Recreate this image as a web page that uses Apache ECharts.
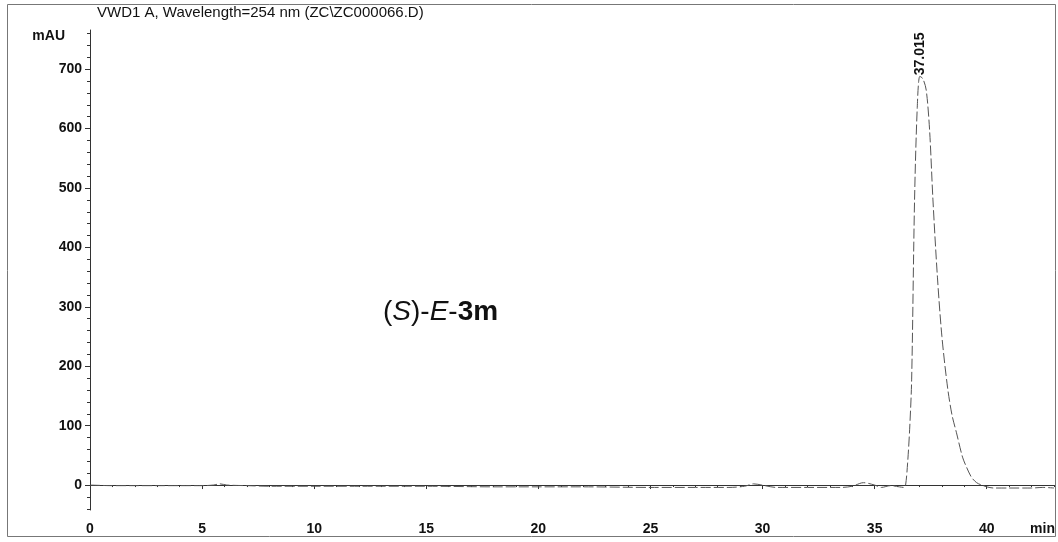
<!DOCTYPE html>
<html>
<head>
<meta charset="utf-8">
<script src="https://cdn.jsdelivr.net/npm/echarts@6.0.0/dist/echarts.min.js"></script>
<style>html,body{margin:0;padding:0;background:#fff;}#c{width:1058px;height:542px;}</style>
</head>
<body>
<div id="c"></div>
<script>
// ---- data ----
var titleText = 'VWD1 A, Wavelength=254 nm (ZC\\ZC000066.D)';
var xUnit = 'min';
var yUnit = 'mAU';
var yTickValues = [0, 100, 200, 300, 400, 500, 600, 700];
var xTickValues = [0, 5, 10, 15, 20, 25, 30, 35, 40];
var peakTime = 37.015;
var peakHeight = 688;
var peakLabel = '37.015';
// retention time (min)
var times = [0, 1, 2, 3, 4, 5, 5.5, 5.8, 6.1, 7, 8, 10, 12, 15, 18, 20, 22, 25, 27, 28.5, 29.2, 29.6, 30.1, 30.6, 32, 33.5, 34.0, 34.5, 35.0, 35.3, 35.7, 36.1, 36.3, 36.38, 36.47, 36.56, 36.65, 36.78, 36.9, 37.015, 37.15, 37.3, 37.45, 37.6, 37.8, 38.0, 38.25, 38.45, 38.65, 38.92, 39.1, 39.32, 39.55, 39.77, 40.0, 40.3, 41, 42, 42.5, 43];
// absorbance (mAU)
var values = [0, -1, -1, -1, -1, -1, 0, 2, 0, -1, -2, -2, -2, -2, -3, -3, -3, -4, -4, -4, -2, 2, -1, -4, -4, -4, -2, 4, 0, -4, -1, -3, -4, 0, 37, 93, 177, 480, 635, 688, 684, 665, 598, 480, 350, 250, 165, 118, 88, 47, 30, 13, 4, 0, -3, -5, -5, -5, -4, -5];

var traceData = times.map(function (t, i) { return [t, values[i]]; });
var minorX = [];
for (var k = 0; k <= 43; k++) minorX.push(k);
var minorY = [];
for (var m = -40; m <= 760; m += 20) minorY.push(m);

var chart = echarts.init(document.getElementById('c'), null, {renderer: 'canvas'});
var FONT = 'Liberation Sans, Arial, sans-serif';
var axisCol = '#333';
var option = {
  animation: false,
  backgroundColor: '#fff',
  grid: {left: 90, right: 4, top: 30, bottom: 32},
  title: {
    text: titleText, left: 97, top: 5, padding: 0,
    textStyle: {fontFamily: FONT, fontSize: 15, fontWeight: 'normal', color: '#111'}
  },
  xAxis: [{
    type: 'value', min: 0, max: 43,
    axisLine: {show: true, lineStyle: {color: axisCol, width: 1}},
    axisTick: {show: true, customValues: xTickValues, length: 4, lineStyle: {color: axisCol}},
    axisLabel: {customValues: xTickValues, fontFamily: FONT, fontSize: 14, fontWeight: 'bold', color: '#111', margin: 12},
    splitLine: {show: false}
  }, {
    type: 'value', min: 0, max: 43, position: 'bottom',
    axisLine: {show: false},
    axisTick: {show: true, customValues: minorX, length: 2, lineStyle: {color: axisCol}},
    axisLabel: {show: false},
    splitLine: {show: false}
  }],
  yAxis: [{
    type: 'value', min: -42, max: 766,
    name: yUnit, nameLocation: 'end', nameGap: -6,
    nameTextStyle: {fontFamily: FONT, fontSize: 14, fontWeight: 'bold', color: '#111', align: 'right', verticalAlign: 'middle', padding: [0, 25, 0, 0]},
    axisLine: {show: true, lineStyle: {color: axisCol, width: 1}},
    axisTick: {show: true, customValues: yTickValues, length: 5, lineStyle: {color: axisCol}},
    axisLabel: {customValues: yTickValues, fontFamily: FONT, fontSize: 14, fontWeight: 'bold', color: '#111', margin: 8},
    splitLine: {show: false}
  }, {
    type: 'value', min: -42, max: 766, position: 'left',
    axisLine: {show: false},
    axisTick: {show: true, customValues: minorY, length: 3, lineStyle: {color: axisCol}},
    axisLabel: {show: false},
    splitLine: {show: false}
  }],
  series: [{
    type: 'line',
    xAxisIndex: 0, yAxisIndex: 0,
    data: traceData,
    showSymbol: false,
    smooth: 0.3,
    lineStyle: {color: '#555', width: 1, type: [10, 3]},
    markPoint: {
      symbol: 'circle', symbolSize: 0,
      data: [{coord: [peakTime, peakHeight]}],
      label: {
        show: true, formatter: peakLabel, position: 'top', distance: 1,
        rotate: 90, align: 'left', verticalAlign: 'middle',
        fontFamily: FONT, fontSize: 14, fontWeight: 'bold', color: '#111'
      }
    }
  }],
  graphic: [{
    type: 'rect', silent: true, z: -1,
    shape: {x: 7.5, y: 4.5, width: 1048, height: 532},
    style: {fill: 'none', stroke: '#777', lineWidth: 1}
  }, {
    type: 'text', right: 3, top: 522, silent: true,
    style: {text: xUnit, font: 'bold 14px ' + FONT, fill: '#111'}
  }, {
    type: 'text', left: 383, top: 298, silent: true,
    style: {
      text: '(' + '{i|S}' + ')-' + '{i|E}' + '-' + '{b|3m}',
      font: '28px ' + FONT, fill: '#111',
      rich: {
        i: {fontFamily: FONT, fontSize: 28, fontStyle: 'italic', fill: '#111'},
        b: {fontFamily: FONT, fontSize: 28, fontWeight: 'bold', fill: '#111'}
      }
    }
  }]
};
chart.setOption(option);
</script>
</body>
</html>
